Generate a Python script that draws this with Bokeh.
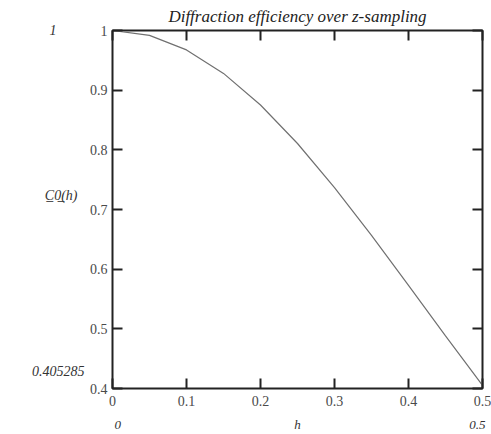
from bokeh.plotting import figure
from bokeh.models import Range1d, LinearAxis, FixedTicker
from bokeh.embed import file_html
from bokeh.resources import INLINE

# Data
h = [0.0, 0.05, 0.10, 0.15, 0.20, 0.25, 0.30, 0.35, 0.40, 0.45, 0.50]
c0 = [1.0, 0.9918, 0.9675, 0.9281, 0.8751, 0.8106, 0.7368, 0.6566, 0.5728, 0.4881, 0.405285]
x_ticks = [0.0, 0.1, 0.2, 0.3, 0.4, 0.5]
y_ticks = [0.4, 0.5, 0.6, 0.7, 0.8, 0.9, 1.0]
title_text = "Diffraction efficiency over z-sampling"
y_label = "C\u03320\u0332(h)"
x_label = "h"
x_min_label, x_max_label = "0", "0.5"
y_max_label, y_min_label = "1", "0.405285"

FONT = "Liberation Serif"
LBL = "#4a4a4a"

p = figure(width=491, height=434, output_backend="svg", toolbar_location=None,
           x_range=Range1d(0, 0.5), y_range=Range1d(0.4, 1.0),
           x_axis_type=None, y_axis_type=None,
           min_border_left=112, min_border_right=9, min_border_top=30, min_border_bottom=46)
p.grid.visible = False
p.background_fill_color = "white"
p.border_fill_color = "white"
p.outline_line_color = "#222222"
p.outline_line_width = 2

p.title.text = title_text
p.title.align = "center"
p.title.text_font = FONT
p.title.text_font_style = "italic"
p.title.text_font_size = "17px"
p.title.text_color = "#222222"
p.title.standoff = 9
p.title.offset = 0


def make_axis(ticks, show_labels, overrides=None):
    ax = LinearAxis(ticker=FixedTicker(ticks=ticks))
    ax.axis_line_color = None
    ax.major_tick_in = 10
    ax.major_tick_out = 0
    ax.major_tick_line_color = "#222222"
    ax.major_tick_line_width = 2
    ax.minor_tick_line_color = None
    ax.major_label_text_font = FONT
    ax.major_label_text_font_size = "14px"
    ax.major_label_text_color = LBL
    if overrides:
        ax.major_label_overrides = overrides
    if not show_labels:
        ax.major_label_text_font_size = "0px"
        ax.major_label_text_color = None
        ax.major_label_standoff = 0
    return ax


def text_axis(ticks, labels, size="13px"):
    ax = LinearAxis(ticker=FixedTicker(ticks=ticks))
    ax.axis_line_color = None
    ax.major_tick_line_color = None
    ax.minor_tick_line_color = None
    ax.major_tick_in = 0
    ax.major_tick_out = 0
    ax.major_label_text_font = FONT
    ax.major_label_text_font_style = "italic"
    ax.major_label_text_font_size = size
    ax.major_label_text_color = "#333333"
    ax.major_label_overrides = dict(zip(ticks, labels))
    return ax


bottom = make_axis(x_ticks, True, {0.0: "0"})
bottom.major_label_standoff = 7
left = make_axis(y_ticks, True, {1.0: "1"})
left.major_label_standoff = 5
top = make_axis(x_ticks, False)
right = make_axis(y_ticks, False)
p.add_layout(bottom, "below")
p.add_layout(left, "left")
p.add_layout(top, "above")
p.add_layout(right, "right")

# Mathcad-style range / name annotations, set as extra text-only axes
bottom2 = text_axis([0.007, 0.25, 0.493], [x_min_label, x_label, x_max_label])
bottom2.major_label_standoff = 8
p.add_layout(bottom2, "below")

left2 = text_axis([1.0, 0.7235, 0.4285],
                  [y_max_label + "\u2007\u2007\u2007\u2007", y_label + "\u2007", y_min_label],
                  size="14px")
left2.major_label_standoff = 2
p.add_layout(left2, "left")

p.line(h, c0, line_color="#707070", line_width=1.2)

open("out.html", "w").write(file_html(p, INLINE))
